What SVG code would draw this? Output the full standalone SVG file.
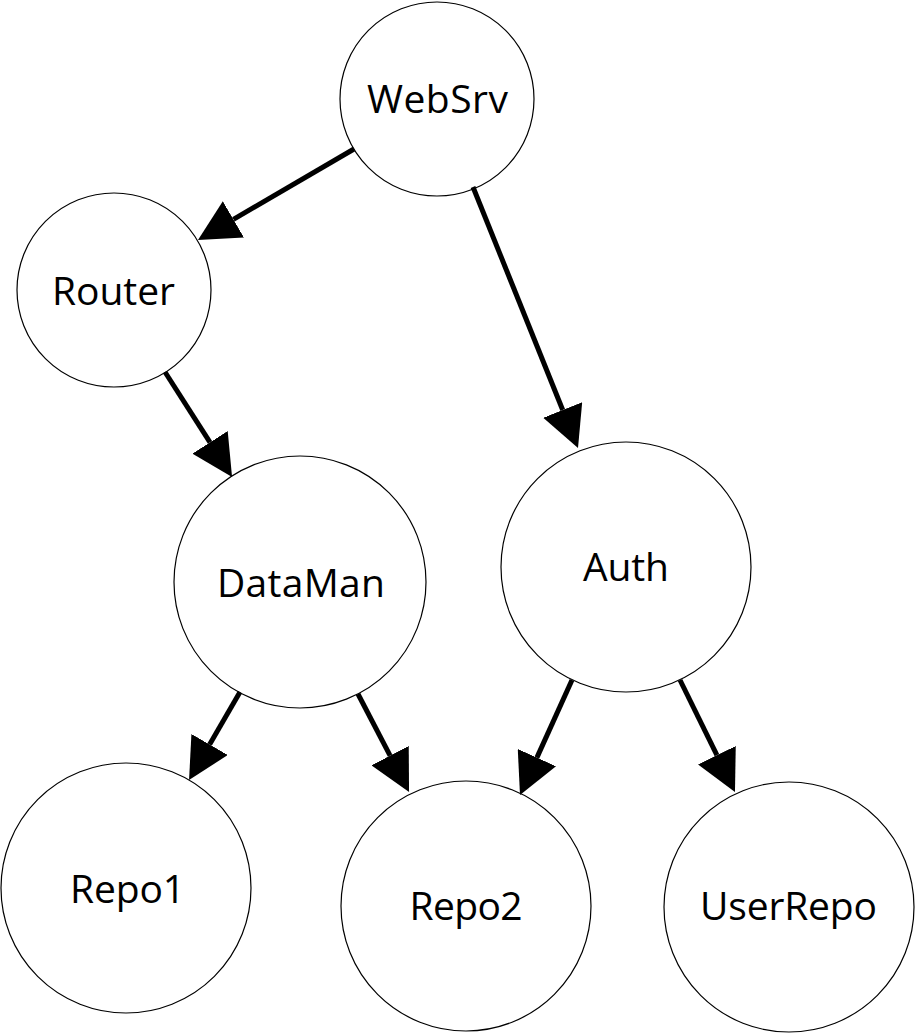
<svg xmlns="http://www.w3.org/2000/svg" width="917" height="1033" viewBox="0 0 917 1033">
<style>
.node circle{fill:#fff;stroke:#000;stroke-width:1.2}
.node text{font-family:"Open Sans","Liberation Sans",sans-serif;font-size:39px;fill:#000;text-anchor:middle}
.edge{stroke:#000;stroke-width:5;fill:none;marker-end:url(#ah)}
</style>
<defs>
<marker id="ah" markerUnits="userSpaceOnUse" markerWidth="42" markerHeight="42" refX="0" refY="21" orient="auto" viewBox="0 0 42 42">
<path d="M0,0 L41,21 L0,42 Z" fill="#000"/>
</marker>
</defs>
<rect width="917" height="1033" fill="#fff"/>
<g id="nodes">
<g id="WebSrv" class="node"><circle cx="437" cy="99" r="97"/><text x="437.5" y="113" textLength="141">WebSrv</text></g>
<g id="Router" class="node"><circle cx="114" cy="290" r="97"/><text x="113.5" y="305" textLength="123">Router</text></g>
<g id="DataMan" class="node"><circle cx="300" cy="582" r="126"/><text x="301" y="597" textLength="168">DataMan</text></g>
<g id="Auth" class="node"><circle cx="626" cy="567" r="125"/><text x="626" y="581" textLength="86">Auth</text></g>
<g id="Repo1" class="node"><circle cx="126" cy="888" r="125"/><text x="127.5" y="903" textLength="115">Repo1</text></g>
<g id="Repo2" class="node"><circle cx="466" cy="906" r="125"/><text x="466" y="920" textLength="113">Repo2</text></g>
<g id="UserRepo" class="node"><circle cx="789" cy="907" r="125"/><text x="788.5" y="920" textLength="177">UserRepo</text></g>
</g>
<g id="connectors">
<line class="edge" x1="354" y1="149" x2="233.4" y2="219.3"/>
<line class="edge" x1="473" y1="187" x2="562.7" y2="410"/>
<line class="edge" x1="165" y1="372" x2="210" y2="442.4"/>
<line class="edge" x1="240" y1="692" x2="209.6" y2="744.5"/>
<line class="edge" x1="358" y1="694" x2="390.1" y2="755.6"/>
<line class="edge" x1="572" y1="680" x2="536.9" y2="757.6"/>
<line class="edge" x1="680" y1="680" x2="716.9" y2="755.2"/>
</g>
</svg>
